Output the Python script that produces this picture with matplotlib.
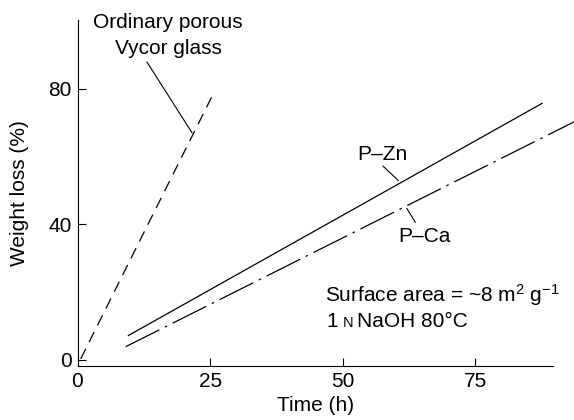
import matplotlib
matplotlib.use('Agg')
import matplotlib.pyplot as plt
from matplotlib.offsetbox import TextArea, HPacker, AnnotationBbox

plt.rcParams['font.family'] = ['Liberation Sans', 'DejaVu Sans']
plt.rcParams['mathtext.fontset'] = 'custom'
plt.rcParams['mathtext.rm'] = 'Liberation Sans'
plt.rcParams['mathtext.it'] = 'Liberation Sans'

# Data (time in h, weight loss in %)
vycor_time = [0.6, 25.5]
vycor_loss = [0.3, 78.2]
pzn_time = [9.6, 87.6]
pzn_loss = [7.2, 75.7]
pca_time = [9.1, 93.7]
pca_loss = [3.9, 70.3]

x_ticks = [0, 25, 50, 75]
y_ticks = [0, 40, 80]

FS = 15

fig = plt.figure(figsize=(5.74, 4.2), dpi=100)
ax = fig.add_axes([77.5 / 574, 54 / 420, (552.7 - 77.5) / 574, 346 / 420])

ax.plot(vycor_time, vycor_loss, color='black', lw=0.9, dashes=(9, 6))
ax.plot(pzn_time, pzn_loss, color='black', lw=0.9)
ax.plot(pca_time, pca_loss, color='black', lw=0.9, dashes=(30, 5, 2, 5), clip_on=False)

ax.set_xlim(0, 89.6)
ax.set_ylim(-1.8, 100.3)
ax.set_xticks(x_ticks)
ax.set_yticks(y_ticks)
ax.tick_params(direction='in', length=6, width=0.8, labelsize=FS, pad=4)
for s in ['top', 'right']:
    ax.spines[s].set_visible(False)
for s in ['left', 'bottom']:
    ax.spines[s].set_linewidth(0.8)

ax.set_xlabel('Time (h)', fontsize=FS, labelpad=4)
ax.set_ylabel('Weight loss (%)', fontsize=FS, labelpad=14)

# Labels with leader lines
ax.text(17.1, 99.7, 'Ordinary porous', fontsize=FS, ha='center', va='center')
ax.text(17.1, 92.0, 'Vycor glass', fontsize=FS, ha='center', va='center')
ax.plot([13.1, 21.6], [87.9, 67.0], color='black', lw=0.8)

ax.text(57.4, 60.5, 'P\u2013Zn', fontsize=FS, ha='center', va='center')
ax.plot([57.6, 60.5], [57.2, 52.9], color='black', lw=0.8)

ax.text(65.4, 36.4, 'P\u2013Ca', fontsize=FS, ha='center', va='center')
ax.plot([62.1, 63.7], [44.7, 40.6], color='black', lw=0.8)

ax.text(46.7, 19.2, 'Surface area = ~8 m$^2$ g$^{-1}$', fontsize=FS, ha='left', va='center')

# "1 N NaOH 80 °C" with small-cap N
parts = HPacker(children=[TextArea('1', textprops=dict(fontsize=FS)),
                          TextArea('N', textprops=dict(fontsize=FS * 0.7)),
                          TextArea('NaOH 80\u00b0C', textprops=dict(fontsize=FS))],
                align='baseline', pad=0, sep=3)
ab = AnnotationBbox(parts, (47.0, 11.2), xycoords='data', box_alignment=(0, 0.5),
                    frameon=False, pad=0)
ax.add_artist(ab)

fig.savefig('out.png', dpi=100)
